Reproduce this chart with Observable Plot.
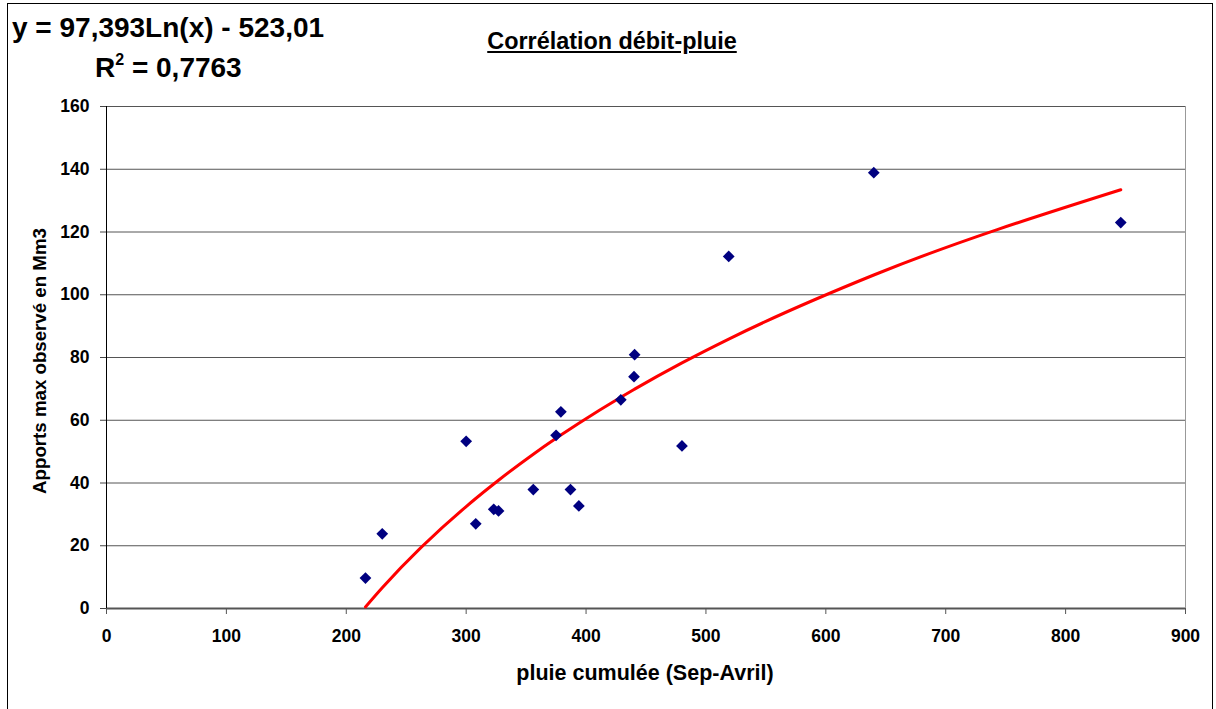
<!DOCTYPE html>
<html><head><meta charset="utf-8">
<script src="https://cdn.jsdelivr.net/npm/d3@7"></script>
<script src="https://cdn.jsdelivr.net/npm/@observablehq/plot@0.6"></script>
<style>
body{margin:0;background:#fff;}
#wrap{position:relative;width:1216px;height:709px;overflow:hidden;font-family:"Liberation Sans",Arial,sans-serif;font-weight:bold;color:#000;}
#chart{position:absolute;left:0;top:0;}
#border{position:absolute;left:7px;top:3px;width:1206px;height:720px;border:1.5px solid #000;box-sizing:border-box;}
.t{position:absolute;white-space:nowrap;line-height:1;}
</style></head><body>
<div id="wrap">
<div id="chart"></div>
<div id="border"></div>
<div class="t" style="left:12px;top:14px;font-size:28px;">y = 97,393Ln(x) - 523,01</div>
<div class="t" style="left:95px;top:54px;font-size:28px;">R<span style="font-size:16px;position:relative;top:-12px">2</span> = 0,7763</div>
<div class="t" style="left:612px;top:30px;font-size:23.4px;transform:translateX(-50%);text-decoration:underline;">Corrélation débit-pluie</div>
<div class="t" style="left:645px;top:663px;font-size:21.5px;transform:translateX(-50%);">pluie cumulée (Sep-Avril)</div>
<div class="t" style="left:40px;top:361px;font-size:18.7px;transform:translate(-50%,-50%) rotate(-90deg);">Apports max observé en Mm3</div>
</div>
<script>
// Observed values
const pluie   = [216, 230, 300, 308, 323, 327, 356, 375, 379, 387, 394, 429, 440, 440.5, 480, 519, 640, 846];
const apports = [9.7, 23.8, 53.3, 27.0, 31.6, 31.1, 37.9, 55.2, 62.7, 37.9, 32.7, 66.5, 73.9, 80.9, 51.8, 112.2, 138.9, 123.0];
// Trend equation shown on the chart: y = a*Ln(x) + b
const trendA = 97.393;
const trendB = -523.01;
const xTicks = [0, 100, 200, 300, 400, 500, 600, 700, 800, 900];
const yTicks = [0, 20, 40, 60, 80, 100, 120, 140, 160];

const points = pluie.map((x, i) => ({x, y: apports[i]}));
const trend = [...pluie].sort((a, b) => a - b).map(x => ({x, y: trendA * Math.log(x) + trendB}));

const chart = Plot.plot({
  width: 1216, height: 709,
  marginLeft: 106, marginRight: 31, marginTop: 106, marginBottom: 101,
  x: {domain: [0, 900]},
  y: {domain: [0, 160]},
  style: {fontFamily: '"Liberation Sans", Arial, sans-serif', fontWeight: "bold", fontSize: "17.5px", color: "#000", background: "transparent", overflow: "visible"},
  marks: [
    Plot.gridY(yTicks, {stroke: "#555", strokeOpacity: 1}),
    Plot.ruleX([900], {stroke: "#999", strokeOpacity: 1}),
    Plot.ruleY([0], {stroke: "#555", strokeWidth: 2}),
    Plot.ruleX([0], {stroke: "#000"}),
    Plot.axisX(xTicks, {tickSize: 6, tickPadding: 15, label: null, stroke: "#555"}),
    Plot.axisY(yTicks, {tickSize: 6, tickPadding: 11, label: null, stroke: "#444"}),
    Plot.line(trend, {x: "x", y: "y", stroke: "#ff0000", strokeWidth: 3, curve: "monotone-x"}),
    Plot.dot(points, {x: "x", y: "y", symbol: "diamond2", r: 5.3, fill: "#000080", stroke: "none"})
  ]
});
document.getElementById("chart").appendChild(chart);
</script>
</body></html>
